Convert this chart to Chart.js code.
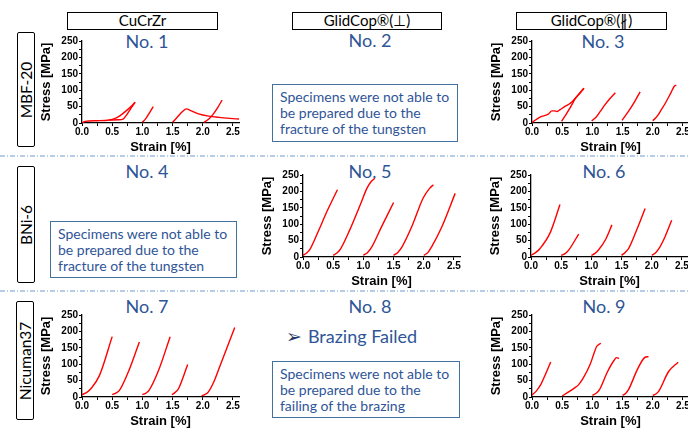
<!DOCTYPE html>
<html>
<head>
<meta charset="utf-8">
<script src="https://cdn.jsdelivr.net/npm/chart.js@4"></script>
<style>
  body { margin: 0; width: 688px; height: 430px; background: #fff; position: relative; overflow: hidden; font-family: Lato, "Open Sans", sans-serif; }
  .head { position: absolute; top: 12px; height: 18px; box-sizing: border-box; border: 1.3px solid #000; text-align: center; font-size: 15px; line-height: 15px; color: #000; }
  .row { position: absolute; width: 18px; box-sizing: border-box; border: 1.3px solid #000; border-radius: 2px; }
  .row span { position: absolute; left: 50%; top: 50%; transform: translate(-50%, -50%) rotate(-90deg); white-space: nowrap; font-size: 15.5px; color: #000; }
  .no { position: absolute; width: 120px; text-align: center; font-size: 18px; line-height: 18px; color: #2f5597; }
  .note { position: absolute; box-sizing: border-box; border: 1.3px solid #41719c; padding: 4px 7px; font-size: 14px; line-height: 16px; color: #2f5597; white-space: nowrap; }
  .sep { position: absolute; left: 0; }
  canvas { position: absolute; }
</style>
</head>
<body>

<svg class="sep" style="top:150px" width="688" height="12">
  <line x1="0" y1="6" x2="688" y2="6" stroke="#6f9bd1" stroke-width="1" stroke-dasharray="5 2 1 2"/>
</svg>
<svg class="sep" style="top:285px" width="688" height="12">
  <line x1="0" y1="6" x2="688" y2="6" stroke="#6f9bd1" stroke-width="1" stroke-dasharray="5 2 1 2"/>
</svg>

<div class="head" style="left:67px;width:151px">CuCrZr</div>
<div class="head" style="left:292px;width:150px">GlidCop®(⊥)</div>
<div class="head" style="left:516px;width:151px">GlidCop®(∦)</div>

<div class="row" style="left:17px;top:32px;height:115px"><span>MBF-20</span></div>
<div class="row" style="left:17px;top:166px;height:117px"><span>BNi-6</span></div>
<div class="row" style="left:16px;top:301px;height:119px"><span>Nicuman37</span></div>

<div class="no" style="left:87px;top:32px">No. 1</div>
<div class="no" style="left:310px;top:31px">No. 2</div>
<div class="no" style="left:543px;top:32px">No. 3</div>
<div class="no" style="left:87px;top:162px">No. 4</div>
<div class="no" style="left:310px;top:162px">No. 5</div>
<div class="no" style="left:544px;top:162px">No. 6</div>
<div class="no" style="left:87px;top:297px">No. 7</div>
<div class="no" style="left:310px;top:297px">No. 8</div>
<div class="no" style="left:544px;top:297px">No. 9</div>

<div class="note" style="left:272px;top:84px;width:186px;height:58px">Specimens were not able to<br>be prepared due to the<br>fracture of the tungsten</div>
<div class="note" style="left:50px;top:221px;width:187px;height:57px">Specimens were not able to<br>be prepared due to the<br>fracture of the tungsten</div>
<div class="note" style="left:272px;top:361px;width:188px;height:57px">Specimens were not able to<br>be prepared due to the<br>failing of the brazing</div>

<div style="position:absolute;left:286px;top:326px;font-size:18px;line-height:20px;color:#2f5597;white-space:nowrap"><span style="font-family:'DejaVu Sans';font-size:19px;color:#1f3864">➢</span><span style="margin-left:6px">Brazing Failed</span></div>

<canvas id="c1"></canvas>
<canvas id="c3"></canvas>
<canvas id="c5"></canvas>
<canvas id="c6"></canvas>
<canvas id="c7"></canvas>
<canvas id="c9"></canvas>

<script>
const strainTicks = [0, 0.5, 1, 1.5, 2, 2.5];
const stressTicks = [0, 50, 100, 150, 200, 250];

// each curve: [strain %, stress MPa]
const no1 = [
  [[0, 0], [0.05, 5], [0.25, 7], [0.45, 9], [0.55, 14], [0.62, 21], [0.75, 40], [0.88, 63]],
  [[0.45, 9], [0.6, 10], [0.68, 12], [0.74, 25], [0.81, 45], [0.88, 63]],
  [[1.0, 2], [1.05, 12], [1.12, 32], [1.18, 50]],
  [[1.5, 2], [1.58, 18], [1.66, 34], [1.73, 43], [1.8, 38], [1.93, 28], [2.1, 21], [2.27, 17], [2.45, 14], [2.6, 12]],
  [[2.02, 2], [2.1, 12], [2.16, 24], [2.25, 48], [2.32, 70]]
];
const no3 = [
  [[0, 2], [0.08, 12], [0.16, 20], [0.27, 27], [0.33, 37], [0.37, 37], [0.41, 35], [0.46, 40], [0.54, 50], [0.6, 56], [0.66, 64], [0.77, 87], [0.86, 106]],
  [[0.49, 5], [0.56, 25], [0.63, 46], [0.72, 75], [0.8, 92], [0.86, 106]],
  [[0.99, 6], [1.07, 20], [1.14, 38], [1.21, 56], [1.3, 76], [1.38, 92]],
  [[1.49, 8], [1.6, 36], [1.7, 65], [1.79, 95]],
  [[2.0, 7], [2.07, 20], [2.14, 40], [2.21, 61], [2.3, 92], [2.36, 113], [2.39, 115]]
];
const no5 = [
  [[0, 5], [0.06, 12], [0.12, 25], [0.25, 77], [0.4, 140], [0.57, 205]],
  [[0.5, 5], [0.56, 12], [0.62, 24], [0.78, 85], [0.95, 160], [1.06, 210], [1.13, 230], [1.19, 240]],
  [[1.0, 5], [1.07, 14], [1.14, 31], [1.3, 92], [1.5, 166]],
  [[1.5, 5], [1.57, 14], [1.64, 31], [1.8, 92], [1.99, 180], [2.1, 210], [2.16, 220]],
  [[2.0, 5], [2.07, 14], [2.13, 31], [2.3, 92], [2.52, 194]]
];
const no6 = [
  [[0, 5], [0.08, 14], [0.15, 26], [0.32, 75], [0.48, 160]],
  [[0.5, 5], [0.57, 11], [0.62, 20], [0.79, 70]],
  [[1.0, 5], [1.06, 11], [1.12, 22], [1.24, 55], [1.34, 98]],
  [[1.5, 5], [1.56, 14], [1.62, 27], [1.76, 87], [1.89, 148]],
  [[2.0, 5], [2.06, 12], [2.12, 26], [2.22, 62], [2.33, 112]]
];
const no7 = [
  [[0, 7], [0.08, 14], [0.15, 26], [0.29, 66], [0.5, 184]],
  [[0.5, 7], [0.56, 12], [0.62, 20], [0.78, 82], [0.95, 168]],
  [[1.0, 7], [1.06, 12], [1.11, 20], [1.27, 82], [1.46, 184]],
  [[1.49, 7], [1.55, 15], [1.6, 26], [1.75, 99]],
  [[1.98, 4], [2.04, 8], [2.09, 15], [2.18, 45], [2.28, 92], [2.53, 212]]
];
const no9 = [
  [[0, 6], [0.07, 18], [0.14, 36], [0.22, 68], [0.31, 107]],
  [[0.5, 3], [0.6, 15], [0.7, 27], [0.77, 37], [0.85, 58], [0.96, 98], [1.03, 135], [1.07, 154], [1.14, 164]],
  [[1.0, 5], [1.05, 10], [1.11, 20], [1.25, 77], [1.36, 112], [1.4, 120], [1.44, 117]],
  [[1.5, 5], [1.55, 11], [1.6, 23], [1.74, 82], [1.84, 115], [1.88, 122], [1.93, 123]],
  [[2.0, 5], [2.05, 9], [2.1, 18], [2.26, 77], [2.42, 106]]
];

const tickFont = { family: "Liberation Sans", size: 10, weight: "bold" };
const titleFont = { family: "Liberation Sans", size: 13, weight: "bold" };

function makeChart(id, curves, axisX, zeroY) {
  const c = document.getElementById(id);
  c.width = 209;
  c.height = 123;
  c.style.left = (axisX - 44) + "px";
  c.style.top = (zeroY - 90) + "px";

  new Chart(c, {
    type: "scatter",
    data: {
      datasets: curves.map((curve) => ({
        data: curve.map(([x, y]) => ({ x, y })),
        showLine: true,
        borderColor: "#ff0000",
        borderWidth: 1.4,
        pointRadius: 0,
        cubicInterpolationMode: "monotone",
        fill: false,
      })),
    },
    options: {
      responsive: false,
      animation: false,
      events: [],
      layout: { padding: { top: 8, right: 8, left: 0, bottom: 0 } },
      plugins: { legend: { display: false }, tooltip: { enabled: false } },
      scales: {
        x: {
          type: "linear",
          min: 0,
          max: 2.6,
          afterFit: (s) => { s.height = 33; },
          ticks: {
            stepSize: 0.25,
            includeBounds: false,
            autoSkip: false,
            maxRotation: 0,
            minRotation: 0,
            padding: 0,
            color: "#000",
            font: tickFont,
            callback: (v) => (strainTicks.some((t) => Math.abs(t - v) < 1e-6) ? v.toFixed(1) : ""),
          },
          grid: { drawOnChartArea: false, tickLength: 3, color: "#000" },
          border: { color: "#000", width: 1.3 },
          title: { display: true, text: "Strain [%]", color: "#000", font: titleFont, padding: 1 },
        },
        y: {
          min: 0,
          max: 250,
          afterFit: (s) => { s.width = 44; },
          ticks: {
            stepSize: 25,
            autoSkip: false,
            padding: 1,
            color: "#000",
            font: tickFont,
            callback: (v) => (stressTicks.includes(v) ? v : ""),
          },
          grid: { drawOnChartArea: false, tickLength: 3, color: "#000" },
          border: { color: "#000", width: 1.3 },
          title: { display: true, text: "Stress [MPa]", color: "#000", font: titleFont, padding: 1 },
        },
      },
    },
  });
}

makeChart("c1", no1, 82, 123);
makeChart("c3", no3, 532, 123);
makeChart("c5", no5, 303, 257);
makeChart("c6", no6, 531, 257);
makeChart("c7", no7, 82, 397);
makeChart("c9", no9, 532, 397);
</script>
</body>
</html>
